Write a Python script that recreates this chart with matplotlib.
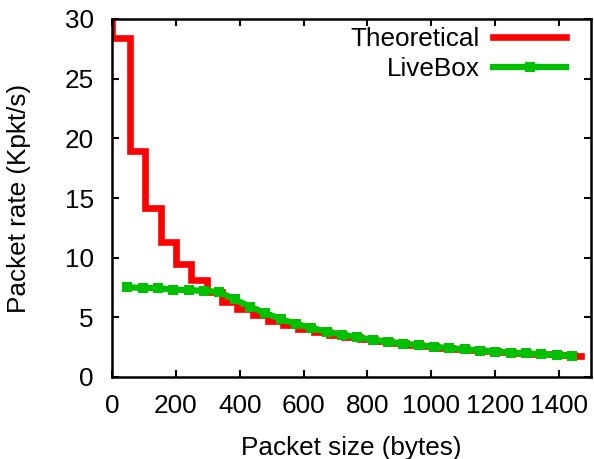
import matplotlib
matplotlib.use("Agg")
import matplotlib.pyplot as plt
from matplotlib.lines import Line2D

# theoretical packet rate: right edge of each step (bytes) and its level (Kpkt/s)
theo_edges = [0, 56, 104, 152, 200, 248, 296, 344, 392, 440, 488, 536, 584,
              632, 680, 728, 776, 824, 872, 920, 968, 1016, 1064, 1112, 1160,
              1208, 1256, 1304, 1352, 1400, 1448, 1470]
theo_rate = [60, 28.4, 18.9, 14.2, 11.35, 9.45, 8.1, 7.1, 6.3, 5.68, 5.16,
             4.73, 4.37, 4.06, 3.79, 3.55, 3.34, 3.16, 2.99, 2.84, 2.7, 2.58,
             2.47, 2.37, 2.27, 2.18, 2.1, 2.03, 1.96, 1.89, 1.83, 1.72]

# measured LiveBox rate
live_size = [48, 96, 144, 192, 240, 288, 336, 384, 432, 480, 528, 576, 624,
             672, 720, 768, 816, 864, 912, 960, 1008, 1056, 1104, 1152, 1200,
             1248, 1296, 1344, 1392, 1440]
live_rate = [7.52, 7.47, 7.43, 7.33, 7.28, 7.22, 7.12, 6.5, 5.9, 5.35, 4.85,
             4.45, 4.1, 3.8, 3.55, 3.33, 3.13, 2.96, 2.8, 2.67, 2.54, 2.42,
             2.32, 2.22, 2.13, 2.05, 1.98, 1.91, 1.84, 1.78]

RED = "#ff0000"
GREEN = "#00c000"

plt.rcParams["font.family"] = ["Liberation Sans", "DejaVu Sans"]
plt.rcParams["font.size"] = 18.8

fig = plt.figure(figsize=(5.94, 4.59), dpi=100)
ax = fig.add_axes([112 / 594, 1 - 377 / 459, (591 - 112) / 594, (377 - 19) / 459])

# steps-pre: vertical at the previous edge, then flat up to this edge
ax.plot(theo_edges, theo_rate, color=RED, lw=4.8, drawstyle="steps-pre",
        solid_joinstyle="miter", zorder=2)
ax.plot(live_size, live_rate, color=GREEN, lw=4.5, marker="s", ms=7,
        mew=0, zorder=3)

ax.set_xlim(0, 1500)
ax.set_ylim(0, 30)
ax.set_xticks(range(0, 1401, 200))
ax.set_yticks(range(0, 31, 5))
ax.tick_params(direction="in", length=5, width=1.5, top=True, right=True)
ax.tick_params(axis="x", pad=12)
ax.tick_params(axis="y", pad=13)
for s in ax.spines.values():
    s.set_linewidth(1.8)

ax.set_xlabel("Packet size (bytes)")
ax.set_ylabel("Packet rate (Kpkt/s)")
ax.xaxis.set_label_coords(0.5, -0.165)
ax.yaxis.set_label_coords(-0.17, 0.5)

handles = [Line2D([], [], color=RED, lw=4.8),
           Line2D([], [], color=GREEN, lw=4.5, marker="s", ms=7, mew=0)]
ax.legend(handles, ["Theoretical", "LiveBox"], loc="upper right",
          bbox_to_anchor=(0.948, 0.977), frameon=False, markerfirst=False,
          handlelength=2.8, handletextpad=0.5, labelspacing=0.22,
          borderpad=0, borderaxespad=0)

fig.savefig("out.png", dpi=100)
